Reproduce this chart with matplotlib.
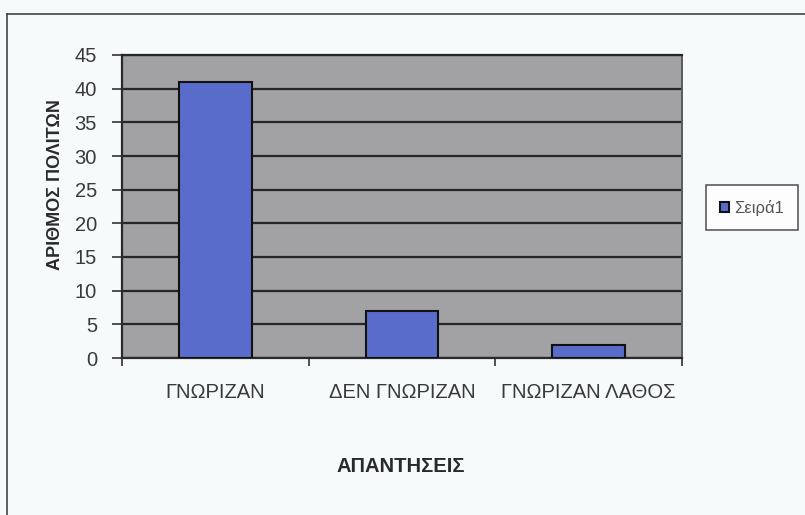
import matplotlib
matplotlib.use("Agg")
import matplotlib.pyplot as plt
from matplotlib.lines import Line2D

plt.rcParams['font.family'] = ['Liberation Sans', 'DejaVu Sans']

categories = ["ΓΝΩΡΙΖΑΝ", "ΔΕΝ ΓΝΩΡΙΖΑΝ", "ΓΝΩΡΙΖΑΝ ΛΑΘΟΣ"]
values = [41, 7, 2]
series_name = "Σειρά1"
y_ticks = [0, 5, 10, 15, 20, 25, 30, 35, 40, 45]
x_title = "ΑΠΑΝΤΗΣΕΙΣ"
y_title = "ΑΡΙΘΜΟΣ ΠΟΛΙΤΩΝ"

W, H = 805, 515
fig = plt.figure(figsize=(W / 100, H / 100), dpi=100)
fig.patch.set_facecolor('#f6fafa')

ax = fig.add_axes([122 / W, 1 - 358 / H, (682 - 122) / W, (358 - 55) / H])
ax.set_facecolor('#a2a2a4')

x = list(range(len(categories)))
bars = ax.bar(x, values, width=0.39, color='#5a6ccb', edgecolor='#111111',
              linewidth=1.5, zorder=3, label=series_name)

ax.set_xlim(-0.5, len(categories) - 0.5)
ax.set_ylim(0, 45)
ax.set_yticks(y_ticks)
ax.yaxis.grid(True, color='#262626', linewidth=1.6, zorder=1)
ax.set_axisbelow(True)

ax.set_xticks(x)
ax.set_xticklabels(categories)
ax.set_xticks([i - 0.5 for i in range(len(categories) + 1)], minor=True)
ax.tick_params(axis='x', which='major', length=0, pad=18, labelsize=14.5, labelcolor='#3a3a3a')
ax.tick_params(axis='x', which='minor', length=6, width=1.2, color='#333333', direction='out')
ax.tick_params(axis='y', which='major', length=7, width=1.2, color='#333333', pad=11,
               labelsize=14.5, labelcolor='#3a3a3a')

for side in ['left', 'bottom']:
    ax.spines[side].set_color('#2a2a2a')
    ax.spines[side].set_linewidth(1.6)
ax.spines['right'].set_color('#5a5a5a')
ax.spines['right'].set_linewidth(1.4)
ax.spines['top'].set_color('#262626')
ax.spines['top'].set_linewidth(1.6)

fig.text(56 / W, 1 - 185 / H, y_title, rotation=90, ha='center', va='center',
         fontsize=13, fontweight='bold', color='#2a2a2a')
fig.text(401 / W, 1 - 467 / H, x_title, ha='center', va='center',
         fontsize=14.5, fontweight='bold', color='#2a2a2a')

leg = fig.legend(handles=[bars], labels=[series_name], loc='center left',
                 bbox_to_anchor=(706 / W, 1 - 207.5 / H), frameon=True, fancybox=False,
                 fontsize=12, handlelength=0.55, handleheight=0.55, handletextpad=0.3,
                 borderpad=0.85, borderaxespad=0)
leg.get_frame().set_edgecolor('#333333')
leg.get_frame().set_linewidth(1.2)
leg.get_frame().set_facecolor('white')
for t in leg.get_texts():
    t.set_color('#555555')

# outer chart-area border (left and top edges visible)
fig.add_artist(Line2D([7 / W, 7 / W], [0, 1 - 14 / H], transform=fig.transFigure,
                      color='#444444', linewidth=1.2))
fig.add_artist(Line2D([7 / W, 1], [1 - 14 / H, 1 - 14 / H], transform=fig.transFigure,
                      color='#444444', linewidth=1.2))

fig.savefig("out.png", dpi=100, facecolor=fig.get_facecolor())
